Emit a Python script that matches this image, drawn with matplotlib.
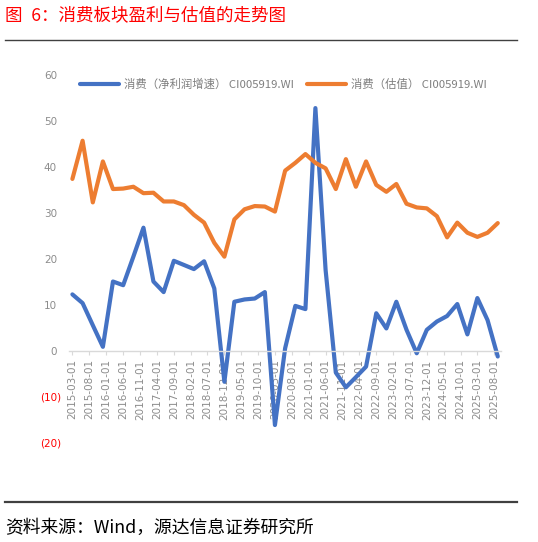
import matplotlib
matplotlib.use('Agg')
import matplotlib.pyplot as plt
import matplotlib.dates as mdates
from matplotlib.lines import Line2D
import pandas as pd

# quarterly data, 2015-03 .. 2025-09
dates = pd.date_range('2015-03-01', periods=43, freq='3MS')

# 消费（净利润增速）
profit_growth = [12.3, 10.4, 5.6, 0.9, 15.1, 14.3, 20.5, 26.8, 15.1, 12.8,
                 19.6, 18.7, 17.8, 19.5, 13.6, -6.7, 10.7, 11.2, 11.4, 12.8,
                 -16.1, 0.6, 9.8, 9.1, 52.8, 17.6, -4.7, -7.9, -5.7, -3.4,
                 8.2, 4.9, 10.7, 4.6, -0.5, 4.6, 6.4, 7.6, 10.2, 3.6,
                 11.5, 6.7, -1.2]
# 消费（估值）
valuation = [37.4, 45.7, 32.3, 41.2, 35.2, 35.3, 35.7, 34.3, 34.4, 32.5,
             32.5, 31.7, 29.6, 27.9, 23.5, 20.5, 28.6, 30.8, 31.5, 31.4,
             30.3, 39.2, 40.9, 42.8, 40.9, 39.7, 35.2, 41.7, 35.7, 41.2,
             36.1, 34.6, 36.3, 32.0, 31.2, 31.0, 29.3, 24.7, 27.9, 25.7,
             24.8, 25.7, 27.8]

tick_dates = pd.date_range('2015-03-01', '2025-08-01', freq='5MS')
yticks = [-20, -10, 0, 10, 20, 30, 40, 50, 60]

cjk = ['Noto Sans CJK SC', 'DejaVu Sans']

fig = plt.figure(figsize=(5.38, 5.42), dpi=100)
ax = fig.add_axes([0.1288, 0.1827, 0.8026, 0.679])

ax.plot(dates, profit_growth, color='#4472C4', lw=3.0, solid_joinstyle='round',
        solid_capstyle='round', label='消费（净利润增速） CI005919.WI')
ax.plot(dates, valuation, color='#ED7D31', lw=3.0, solid_joinstyle='round',
        solid_capstyle='round', label='消费（估值） CI005919.WI')

ax.set_xlim(pd.Timestamp('2015-02-01'), pd.Timestamp('2025-10-01'))
ax.set_ylim(-20, 60)

for s in ['top', 'right', 'left']:
    ax.spines[s].set_visible(False)
ax.spines['bottom'].set_position(('data', 0))
ax.spines['bottom'].set_color('#d9d9d9')
ax.spines['bottom'].set_linewidth(1.0)

ax.set_xticks(tick_dates)
ax.xaxis.set_major_formatter(mdates.DateFormatter('%Y-%m-%d'))
ax.tick_params(axis='x', length=3, color='#d9d9d9', labelcolor='#8c8c8c',
               labelsize=7.5, labelrotation=90, pad=3)
for lbl in ax.get_xticklabels():
    lbl.set_family('DejaVu Sans')

ax.set_yticks(yticks)
ax.set_yticklabels([f'({abs(v)})' if v < 0 else str(v) for v in yticks])
ax.tick_params(axis='y', length=0, labelsize=7.5, pad=6)
for tick, v in zip(ax.yaxis.get_major_ticks(), yticks):
    tick.label1.set_color('#ff0000' if v < 0 else '#8c8c8c')
    if v >= 0:
        tick.set_pad(8.9)

ax.legend(loc='center', bbox_to_anchor=(0.527, 0.845), bbox_transform=fig.transFigure,
          ncol=2, frameon=False, handlelength=3.4, handletextpad=0.45,
          columnspacing=1.1, prop={'family': cjk, 'size': 8.2}, labelcolor='#7f7f7f')

fig.text(5 / 538, 1 - 15.5 / 542, '图\u20026：消费板块盈利与估值的走势图', color='#ff0000',
         fontsize=12.6, family=cjk, weight='medium', ha='left', va='center')
fig.add_artist(Line2D([5 / 538, 517 / 538], [1 - 40 / 542] * 2, color='#404040', lw=1.0))
fig.add_artist(Line2D([5 / 538, 517 / 538], [1 - 502 / 542] * 2, color='#404040', lw=1.6))
fig.text(5 / 538, 1 - 528 / 542, '资料来源：Wind，源达信息证券研究所', color='#000000',
         fontsize=12.8, family=cjk, ha='left', va='center')

fig.savefig('out.png', dpi=100)
